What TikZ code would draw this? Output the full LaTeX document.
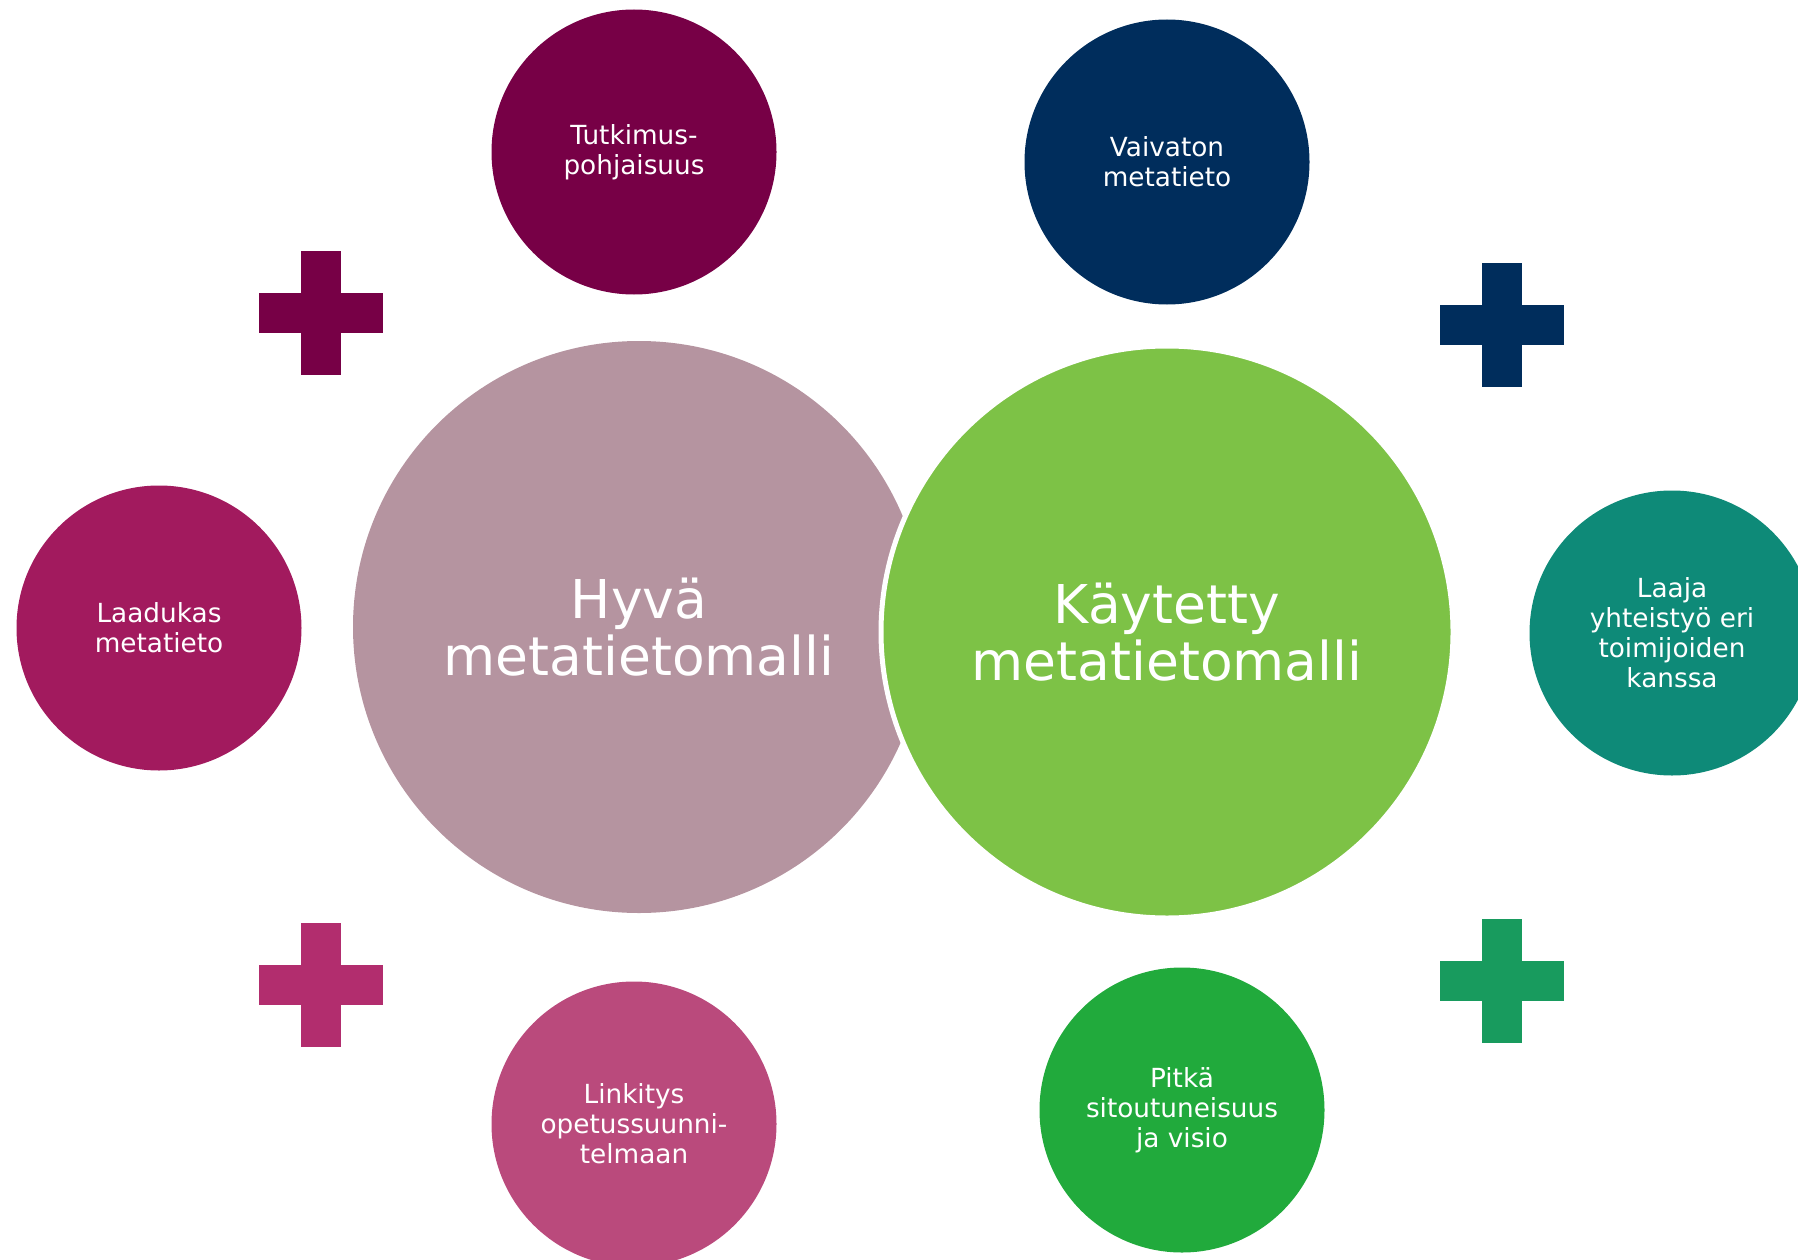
\documentclass[tikz,border=0pt]{standalone}
\usepackage{fontspec}
\setmainfont{DejaVu Sans}
\usepackage{xcolor}
\usetikzlibrary{positioning}

\definecolor{hyvacol}{HTML}{B594A0}
\definecolor{kaytcol}{HTML}{7DC246}
\definecolor{tutkcol}{HTML}{770046}
\definecolor{vaivcol}{HTML}{002D5C}
\definecolor{laadcol}{HTML}{A21A5E}
\definecolor{laajcol}{HTML}{0E8A78}
\definecolor{linkcol}{HTML}{BA4A7C}
\definecolor{pitkcol}{HTML}{21AA3C}
\definecolor{plusred}{HTML}{B22D6E}
\definecolor{plusgreen}{HTML}{189B5E}

\begin{document}
\begin{tikzpicture}[x=1pt, y=-1pt, every node/.style={text=white, align=center}]
    % Define styles for the big and small circles
    \tikzstyle{bigcircle} = [circle, minimum size=572pt, inner sep=0pt, font=\fontsize{53.5}{57}\selectfont]
    \tikzstyle{smallcircle} = [circle, minimum size=285pt, inner sep=0pt, font=\fontsize{26.3}{30}\selectfont]

    \useasboundingbox (0,0) rectangle (1798,1260);

    % Big circles
    \node [bigcircle, fill=hyvacol] (hyva) at (639,627) {Hyvä\\metatietomalli};
    \node [bigcircle, fill=kaytcol, draw=white, line width=5pt] (kaytetty) at (1167,632) {Käytetty\\metatietomalli};

    % Small circles round the left one
    \node [smallcircle, fill=tutkcol] (tutkimus) at (634,152) {Tutkimus-\\pohjaisuus};
    \node [smallcircle, fill=laadcol] (laadukas) at (159,628) {Laadukas\\metatieto};
    \node [smallcircle, fill=linkcol] (linkitys) at (634,1124) {Linkitys\\opetussuunni-\\telmaan};

    % Small circles round the right one
    \node [smallcircle, fill=vaivcol] (vaivaton) at (1167,162) {Vaivaton\\metatieto};
    \node [smallcircle, fill=laajcol] (laaja) at (1672,633) {Laaja\\yhteistyö eri\\toimijoiden\\kanssa};
    \node [smallcircle, fill=pitkcol] (pitka) at (1182,1110) {Pitkä\\sitoutuneisuus\\ja visio};

    % Plus signs
    \foreach \px/\py/\pc in {321/313/tutkcol, 1502/325/vaivcol, 321/985/plusred, 1502/981/plusgreen} {
        \fill[\pc] (\px-62,\py-20) rectangle (\px+62,\py+20);
        \fill[\pc] (\px-20,\py-62) rectangle (\px+20,\py+62);
    }
\end{tikzpicture}
\end{document}
